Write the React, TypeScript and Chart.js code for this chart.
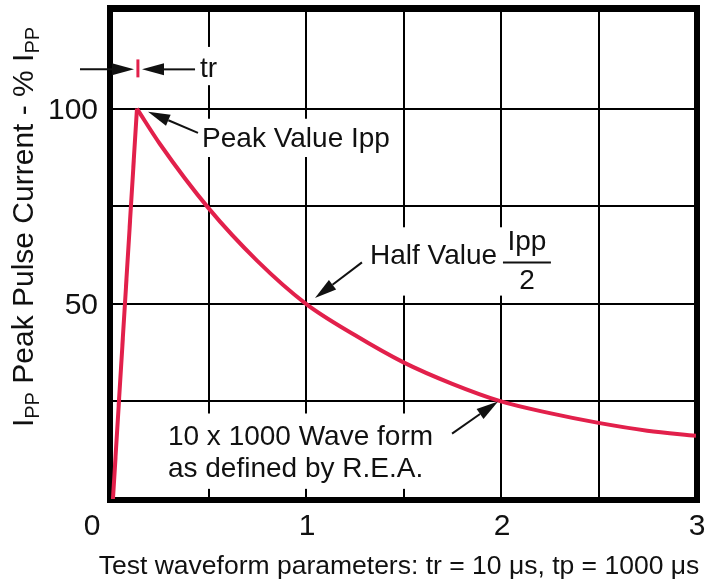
import React, { useEffect, useRef } from 'react';
import { Chart, registerables } from 'chart.js';
Chart.register(...registerables);

// Rising edge (linear) and decay of the 10 x 1000 waveform
const riseX = [0.01, 0.133];
const riseY = [0, 100];
const decayX = [0.133, 0.25, 0.5, 0.75, 1.0, 1.25, 1.5, 1.75, 2.0, 2.25, 2.5, 2.75, 3.0];
const decayY = [100, 91, 74.5, 61, 50, 42, 35, 29.5, 25, 22, 19.5, 17.5, 16.2];

const xTickValues = [0, 1, 2, 3];
const xTickLabels = ['0', '1', '2', '3'];
const yTickValues = [50, 100];
const yTickLabels = ['50', '100'];
const xTitle = 'Test waveform parameters: tr = 10 \u03bcs, tp = 1000 \u03bcs';
const yTitleRuns: [string, boolean][] = [['I', false], ['PP', true], [' Peak Pulse Current - % I', false], ['PP', true]];

const RED = '#E2204B';
const FONT = '"Liberation Sans", Arial, Helvetica, sans-serif';
const INK = '#111';

function arrow(ctx: CanvasRenderingContext2D, x1: number, y1: number, x2: number, y2: number) {
  const a = Math.atan2(y2 - y1, x2 - x1);
  const L = 22, W = 6;
  const bx = x2 - L * Math.cos(a), by = y2 - L * Math.sin(a);
  ctx.beginPath();
  ctx.moveTo(x1, y1);
  ctx.lineTo(bx, by);
  ctx.lineWidth = 2;
  ctx.strokeStyle = INK;
  ctx.stroke();
  ctx.beginPath();
  ctx.moveTo(x2, y2);
  ctx.lineTo(bx + W * Math.sin(a), by - W * Math.cos(a));
  ctx.lineTo(bx - W * Math.sin(a), by + W * Math.cos(a));
  ctx.closePath();
  ctx.fillStyle = INK;
  ctx.fill();
}

const annot = {
  id: 'annot',
  beforeDatasetsDraw(chart: any) {
    const { ctx, chartArea: ca, scales } = chart;
    const X = (v: number) => scales.x.getPixelForValue(v);
    const Y = (v: number) => scales.y.getPixelForValue(v);
    ctx.save();
    // white backgrounds behind annotation texts (data coords)
    const boxes = [
      [0.437, 0.57, 115.8, 106.0], // tr
      [0.446, 1.492, 97.4, 87.6], // peak
      [1.303, 2.282, 69.6, 52.1], // half
      [0.251, 1.749, 21.9, 2.6], // wave form
    ];
    ctx.fillStyle = '#fff';
    for (const b of boxes) {
      const l = X(b[0]), r = X(b[1]), t = Y(b[2]), bt = Y(b[3]);
      ctx.fillRect(l, t, r - l, bt - t);
    }
    // thick frame
    ctx.strokeStyle = '#000';
    ctx.lineWidth = 6;
    ctx.strokeRect(ca.left - 1, ca.top - 3, ca.right - ca.left + 2, ca.bottom - ca.top + 4);
    ctx.restore();
  },
  afterDatasetsDraw(chart: any) {
    const { ctx, chartArea: ca, scales } = chart;
    const X = (v: number) => scales.x.getPixelForValue(v);
    const Y = (v: number) => scales.y.getPixelForValue(v);
    ctx.save();
    ctx.fillStyle = INK;
    ctx.textBaseline = 'alphabetic';

    // tick labels
    ctx.font = `30px ${FONT}`;
    ctx.textAlign = 'center';
    xTickValues.forEach((v, i) => {
      const off = v === 0 ? -19 : 1;
      ctx.fillText(xTickLabels[i], X(v) + off, ca.bottom + 36);
    });
    ctx.textAlign = 'right';
    ctx.textBaseline = 'middle';
    yTickValues.forEach((v, i) => {
      ctx.fillText(yTickLabels[i], ca.left - 13, Y(v) + 2);
    });

    // x title
    ctx.textBaseline = 'alphabetic';
    ctx.textAlign = 'center';
    ctx.font = `26.5px ${FONT}`;
    ctx.fillText(xTitle, 399, ca.bottom + 75);

    // y title with subscripts (rotated)
    const big = 30, small = 20;
    let total = 0;
    for (const [t, sub] of yTitleRuns) {
      ctx.font = `${sub ? small : big}px ${FONT}`;
      total += ctx.measureText(t).width;
    }
    ctx.save();
    ctx.translate(33, 227);
    ctx.rotate(-Math.PI / 2);
    ctx.textAlign = 'left';
    let cx = -total / 2;
    for (const [t, sub] of yTitleRuns) {
      ctx.font = `${sub ? small : big}px ${FONT}`;
      ctx.fillText(t, cx, sub ? 6 : 0);
      cx += ctx.measureText(t).width;
    }
    ctx.restore();

    // annotation texts
    ctx.font = `28px ${FONT}`;
    ctx.textAlign = 'left';
    ctx.fillText('tr', X(0.456), Y(108.0));
    ctx.fillText('Peak Value Ipp', X(0.467), Y(90.2));
    ctx.fillText('Half Value', X(1.328), Y(60.3));
    ctx.textAlign = 'center';
    ctx.fillText('Ipp', X(2.133), Y(63.7));
    ctx.fillText('2', X(2.133), Y(53.9));
    ctx.beginPath();
    ctx.moveTo(X(2.01), Y(60.6));
    ctx.lineTo(X(2.256), Y(60.6));
    ctx.lineWidth = 2;
    ctx.strokeStyle = INK;
    ctx.stroke();
    ctx.textAlign = 'left';
    ctx.fillText('10 x 1000 Wave form', X(0.292), Y(13.9));
    ctx.fillText('as defined by R.E.A.', X(0.292), Y(5.67));

    // arrows
    arrow(ctx, X(-0.159), Y(110.05), X(0.118), Y(110.05));
    arrow(ctx, X(0.431), Y(110.05), X(0.159), Y(110.05));
    arrow(ctx, X(0.446), Y(93.8), X(0.19), Y(99.2));
    arrow(ctx, X(1.287), Y(60.6), X(1.046), Y(51.5));
    arrow(ctx, X(1.749), Y(16.75), X(1.985), Y(25));

    // tr marker
    ctx.beginPath();
    ctx.moveTo(X(0.138), Y(112.6));
    ctx.lineTo(X(0.138), Y(108.0));
    ctx.strokeStyle = RED;
    ctx.lineWidth = 3;
    ctx.stroke();

    ctx.restore();
  },
};

export default function App() {
  const ref = useRef<HTMLCanvasElement>(null);
  useEffect(() => {
    document.body.style.margin = '0';
    const gridOpts = { color: '#000', lineWidth: 2, drawTicks: false };
    const chart = new Chart(ref.current!, {
      type: 'line',
      data: {
        datasets: [
          {
            data: riseX.map((x, i) => ({ x, y: riseY[i] })),
            borderColor: RED,
            borderWidth: 4,
            pointRadius: 0,
            tension: 0,
            fill: false,
          },
          {
            data: decayX.map((x, i) => ({ x, y: decayY[i] })),
            borderColor: RED,
            borderWidth: 4,
            pointRadius: 0,
            cubicInterpolationMode: 'monotone',
            fill: false,
          },
        ],
      },
      options: {
        animation: false,
        responsive: false,
        maintainAspectRatio: false,
        layout: { padding: { left: 111, right: 9, top: 11, bottom: 82 } },
        plugins: { legend: { display: false }, tooltip: { enabled: false }, title: { display: false } },
        scales: {
          x: {
            type: 'linear',
            min: 0,
            max: 3,
            ticks: { display: false, stepSize: 0.5 },
            grid: gridOpts,
            border: { display: false },
          },
          y: {
            type: 'linear',
            min: 0,
            max: 125,
            ticks: { display: false, stepSize: 25 },
            grid: gridOpts,
            border: { display: false },
          },
        },
      },
      plugins: [annot],
    } as any);
    return () => chart.destroy();
  }, []);
  return <canvas ref={ref} width={705} height={581} style={{ display: 'block' }} />;
}
